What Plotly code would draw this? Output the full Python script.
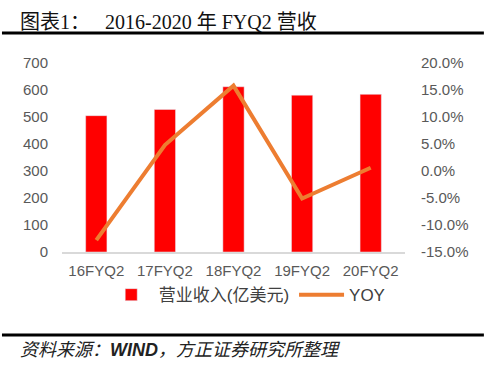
import plotly.graph_objects as go

categories = ["16FYQ2", "17FYQ2", "18FYQ2", "19FYQ2", "20FYQ2"]
revenue = [505, 528, 612, 581, 584]
yoy = [-12.8, 4.8, 15.8, -5.1, 0.6]
left_ticks = [0, 100, 200, 300, 400, 500, 600, 700]
right_ticks = [-15, -10, -5, 0, 5, 10, 15, 20]

fig = go.Figure()
fig.add_trace(go.Bar(x=categories, y=revenue, name="营业收入(亿美元)",
                     marker_color="#FF0000", width=0.31))
fig.add_trace(go.Scatter(x=categories, y=yoy, name="YOY", yaxis="y2",
                         mode="lines", line=dict(color="#ED7D31", width=4)))

tick_font = dict(family="Liberation Sans, Arial, sans-serif", size=15, color="#595959")

fig.update_layout(
    width=500, height=370,
    margin=dict(l=62, r=95, t=63, b=118),
    plot_bgcolor="white", paper_bgcolor="white",
    showlegend=True,
    legend=dict(orientation="h", x=0.54, xanchor="center", y=-0.228, yanchor="middle",
                font=dict(family="Liberation Sans, Noto Sans CJK SC, sans-serif", size=17, color="#404040"),
                itemwidth=45, tracegroupgap=0, bgcolor="rgba(0,0,0,0)"),
    xaxis=dict(showgrid=False, showline=True, linecolor="#D9D9D9", linewidth=1.5,
               ticks="", tickfont=tick_font, range=[-0.5, 4.5], ticklabelstandoff=4),
    yaxis=dict(range=[0, 700], tickvals=left_ticks, showgrid=False, zeroline=False,
               tickfont=tick_font, ticks="", ticklabelstandoff=13),
    yaxis2=dict(range=[-15, 20], tickvals=right_ticks,
                ticktext=[f"{v:.1f}%" for v in right_ticks],
                overlaying="y", side="right", showgrid=False, zeroline=False,
                tickfont=tick_font, ticklabelstandoff=15),
    annotations=[
        dict(text="图表1：   2016-2020 年 FYQ2 营收", x=-0.128, y=1.217, xref="paper", yref="paper",
             xanchor="left", yanchor="middle", showarrow=False,
             font=dict(family="Liberation Serif, Noto Sans CJK SC, serif", size=20, color="#111111")),
        dict(text="<i>资料来源：<b>WIND</b>，方正证券研究所整理</i>", x=-0.128, y=-0.519, xref="paper", yref="paper",
             xanchor="left", yanchor="middle", showarrow=False,
             font=dict(family="Liberation Sans, Noto Sans CJK SC, sans-serif", size=18, color="#222222")),
    ],
    shapes=[
        dict(type="line", xref="paper", yref="paper", x0=-0.175, x1=1.230, y0=1.159, y1=1.159,
             line=dict(color="black", width=3)),
        dict(type="line", xref="paper", yref="paper", x0=-0.175, x1=1.230, y0=-0.439, y1=-0.439,
             line=dict(color="black", width=3)),
    ],
)

fig.write_html("out.html", config={"displayModeBar": False},
               post_script="document.body.style.margin='0';")
